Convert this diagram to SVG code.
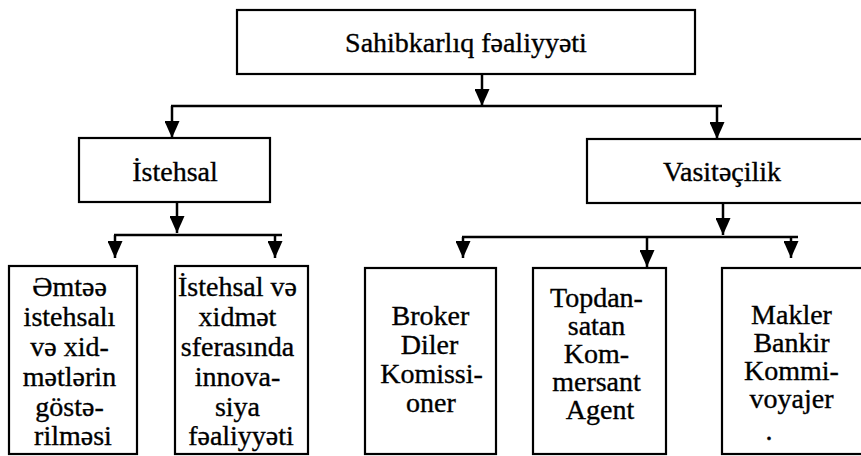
<svg xmlns="http://www.w3.org/2000/svg" width="861" height="456" viewBox="0 0 861 456">
  <style>
    .box { fill: #ffffff; stroke: #000000; stroke-width: 2.2; }
    .lbl { font-family: "Liberation Serif", "DejaVu Serif", serif; font-size: 28px; fill: #000000; stroke: #000000; stroke-width: 0.35; text-anchor: middle; }
    .wire { stroke: #000000; stroke-width: 2.5; fill: none; }
    .arr { marker-end: url(#head); }
  </style>
  <defs>
    <marker id="head" viewBox="0 0 17 15" refX="17" refY="7.5" markerWidth="17" markerHeight="15" markerUnits="userSpaceOnUse" orient="auto">
      <path d="M0,0 L17,7.5 L0,15 z" fill="#000000"/>
    </marker>
  </defs>
  <rect width="861" height="456" fill="#ffffff"/>

  <!-- connectors -->
  <g id="connectors">
    <line class="wire arr" x1="482" y1="74" x2="482" y2="106"/>
    <line class="wire" x1="171" y1="106" x2="722" y2="106"/>
    <line class="wire arr" x1="172" y1="106" x2="172" y2="138"/>
    <line class="wire arr" x1="717" y1="106" x2="717" y2="139"/>

    <line class="wire arr" x1="177" y1="202" x2="177" y2="233"/>
    <line class="wire" x1="114" y1="235" x2="282" y2="235"/>
    <line class="wire arr" x1="115" y1="235" x2="115" y2="258"/>
    <line class="wire arr" x1="275" y1="235" x2="275" y2="258"/>

    <line class="wire arr" x1="723" y1="203" x2="723" y2="235"/>
    <line class="wire" x1="462" y1="237" x2="798" y2="237"/>
    <line class="wire arr" x1="463" y1="237" x2="463" y2="258"/>
    <line class="wire arr" x1="647" y1="237" x2="647" y2="267"/>
    <line class="wire arr" x1="791" y1="237" x2="791" y2="258"/>
  </g>

  <g id="sahibkarliq">
    <rect class="box" x="237" y="10" width="458" height="64"/>
    <text class="lbl" x="466" y="52">Sahibkarlıq fəaliyyəti</text>
  </g>

  <g id="istehsal">
    <rect class="box" x="79" y="138" width="191" height="64"/>
    <text class="lbl" x="175" y="181">İstehsal</text>
  </g>

  <g id="vasitecilik">
    <rect class="box" x="587" y="139" width="290" height="64"/>
    <text class="lbl" x="722" y="181">Vasitəçilik</text>
  </g>

  <g id="emtee">
    <rect class="box" x="9" y="266" width="128" height="188"/>
    <text class="lbl">
      <tspan x="73" y="296">Əmtəə</tspan>
      <tspan x="73" y="326">istehsalı</tspan>
      <tspan x="73" y="356">və xid-</tspan>
      <tspan x="73" y="386">mətlərin</tspan>
      <tspan x="73" y="416">göstə-</tspan>
      <tspan x="73" y="445">rilməsi</tspan>
    </text>
  </g>

  <g id="innovasiya">
    <rect class="box" x="175" y="266" width="133" height="188"/>
    <text class="lbl">
      <tspan x="241" y="296">İstehsal və</tspan>
      <tspan x="241" y="326">xidmət</tspan>
      <tspan x="241" y="356">sferasında</tspan>
      <tspan x="241" y="386">innova-</tspan>
      <tspan x="241" y="416">siya</tspan>
      <tspan x="241" y="445">fəaliyyəti</tspan>
    </text>
  </g>

  <g id="broker">
    <rect class="box" x="365" y="268" width="131" height="186"/>
    <text class="lbl">
      <tspan x="434" y="325">Broker</tspan>
      <tspan x="433" y="354">Diler</tspan>
      <tspan x="435" y="383">Komissi-</tspan>
      <tspan x="431" y="412">oner</tspan>
    </text>
  </g>

  <g id="topdansatan">
    <rect class="box" x="533" y="268" width="133" height="186"/>
    <text class="lbl">
      <tspan x="600" y="307">Topdan-</tspan>
      <tspan x="600" y="335">satan</tspan>
      <tspan x="600" y="363">Kom-</tspan>
      <tspan x="600" y="391">mersant</tspan>
      <tspan x="600" y="419">Agent</tspan>
    </text>
  </g>

  <g id="makler">
    <rect class="box" x="722" y="268" width="150" height="186"/>
    <text class="lbl">
      <tspan x="795" y="324">Makler</tspan>
      <tspan x="795" y="352">Bankir</tspan>
      <tspan x="795" y="380">Kommi-</tspan>
      <tspan x="795" y="408">voyajer</tspan>
      <tspan x="769" y="440">.</tspan>
    </text>
  </g>
</svg>
